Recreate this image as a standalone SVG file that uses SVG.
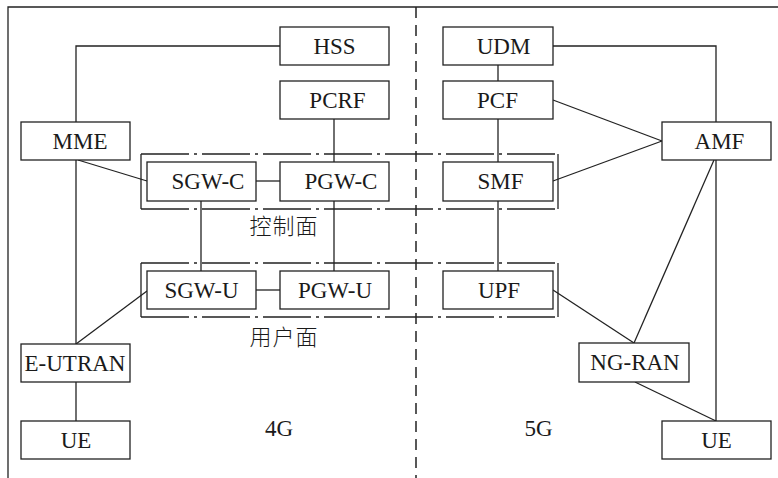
<svg xmlns="http://www.w3.org/2000/svg" width="778" height="478" viewBox="0 0 778 478">
<style>
.box{fill:#fff;stroke:#222;stroke-width:1.3}
.lbl{font-family:"Liberation Serif","Times New Roman",serif;font-size:23px;fill:#1a1a1a;text-anchor:middle}
.cjk{font-family:"Noto Sans CJK SC","Noto Sans CJK JP",sans-serif;font-size:22px;font-weight:300;letter-spacing:1px;fill:#1a1a1a;text-anchor:middle}
.ln{fill:none;stroke:#222;stroke-width:1.3}
.dd{fill:none;stroke:#222;stroke-width:1.3;stroke-dasharray:48 5 3 5}
.vd{fill:none;stroke:#222;stroke-width:1.5;stroke-dasharray:11 7}
</style>
<rect width="778" height="478" fill="#fff"/>
<g id="frame">
<path class="ln" d="M8,478 V7 H778"/>
<path class="vd" d="M416,7 V478"/>
</g>
<g id="planes">
<path class="ln" d="M141,154 V209 M558,154 V209 M141,263 V317 M558,263 V317"/>
<path class="dd" d="M141,154 H558 M141,209 H558 M141,263 H558 M141,317 H558"/>
<text class="cjk" x="284" y="234">控制面</text>
<text class="cjk" x="284" y="345">用户面</text>
</g>
<g id="connectors">
<path class="ln" d="M280,46 H76 V122"/>
<path class="ln" d="M76,160 V344"/>
<path class="ln" d="M76,382 V421"/>
<path class="ln" d="M78,160 L147,181"/>
<path class="ln" d="M76,344 L147,291"/>
<path class="ln" d="M256,181 H280"/>
<path class="ln" d="M256,290 H280"/>
<path class="ln" d="M201,201 V271"/>
<path class="ln" d="M334,201 V271"/>
<path class="ln" d="M334,119 V162"/>
<path class="ln" d="M498,65 V81"/>
<path class="ln" d="M498,119 V162"/>
<path class="ln" d="M498,201 V271"/>
<path class="ln" d="M553,46 H716 V122"/>
<path class="ln" d="M553,100 L662,141"/>
<path class="ln" d="M553,181 L662,141"/>
<path class="ln" d="M716,160 V421"/>
<path class="ln" d="M714,160 L634,343"/>
<path class="ln" d="M553,290 L634,343"/>
<path class="ln" d="M635,382 L716,421"/>
</g>
<g id="HSS"><rect class="box" x="280" y="27" width="109" height="38"/><text class="lbl" x="334.5" y="54">HSS</text></g>
<g id="PCRF"><rect class="box" x="280" y="81" width="109" height="38"/><text class="lbl" x="337.5" y="108">PCRF</text></g>
<g id="MME"><rect class="box" x="21" y="122" width="109" height="38"/><text class="lbl" x="80" y="149">MME</text></g>
<g id="SGW-C"><rect class="box" x="147" y="162" width="109" height="39"/><text class="lbl" x="208" y="189">SGW-C</text></g>
<g id="PGW-C"><rect class="box" x="280" y="162" width="109" height="39"/><text class="lbl" x="341" y="189">PGW-C</text></g>
<g id="SGW-U"><rect class="box" x="147" y="271" width="109" height="38"/><text class="lbl" x="201.5" y="298">SGW-U</text></g>
<g id="PGW-U"><rect class="box" x="280" y="271" width="109" height="38"/><text class="lbl" x="335" y="298">PGW-U</text></g>
<g id="E-UTRAN"><rect class="box" x="21" y="344" width="109" height="38"/><text class="lbl" x="75" y="371">E-UTRAN</text></g>
<g id="UE4G"><rect class="box" x="21" y="421" width="109" height="38"/><text class="lbl" x="76" y="448">UE</text></g>
<g id="UDM"><rect class="box" x="443" y="27" width="110" height="38"/><text class="lbl" x="503.5" y="54">UDM</text></g>
<g id="PCF"><rect class="box" x="443" y="81" width="110" height="38"/><text class="lbl" x="497.5" y="108">PCF</text></g>
<g id="SMF"><rect class="box" x="443" y="162" width="110" height="39"/><text class="lbl" x="500.5" y="189">SMF</text></g>
<g id="UPF"><rect class="box" x="443" y="271" width="110" height="38"/><text class="lbl" x="499" y="298">UPF</text></g>
<g id="AMF"><rect class="box" x="662" y="122" width="109" height="38"/><text class="lbl" x="719.5" y="149">AMF</text></g>
<g id="NG-RAN"><rect class="box" x="579" y="343" width="110" height="39"/><text class="lbl" x="635" y="370">NG-RAN</text></g>
<g id="UE5G"><rect class="box" x="662" y="421" width="109" height="38"/><text class="lbl" x="716.5" y="448">UE</text></g>
<g id="labels">
<text class="lbl" x="279" y="436">4G</text>
<text class="lbl" x="538.5" y="436">5G</text>
</g>
</svg>
